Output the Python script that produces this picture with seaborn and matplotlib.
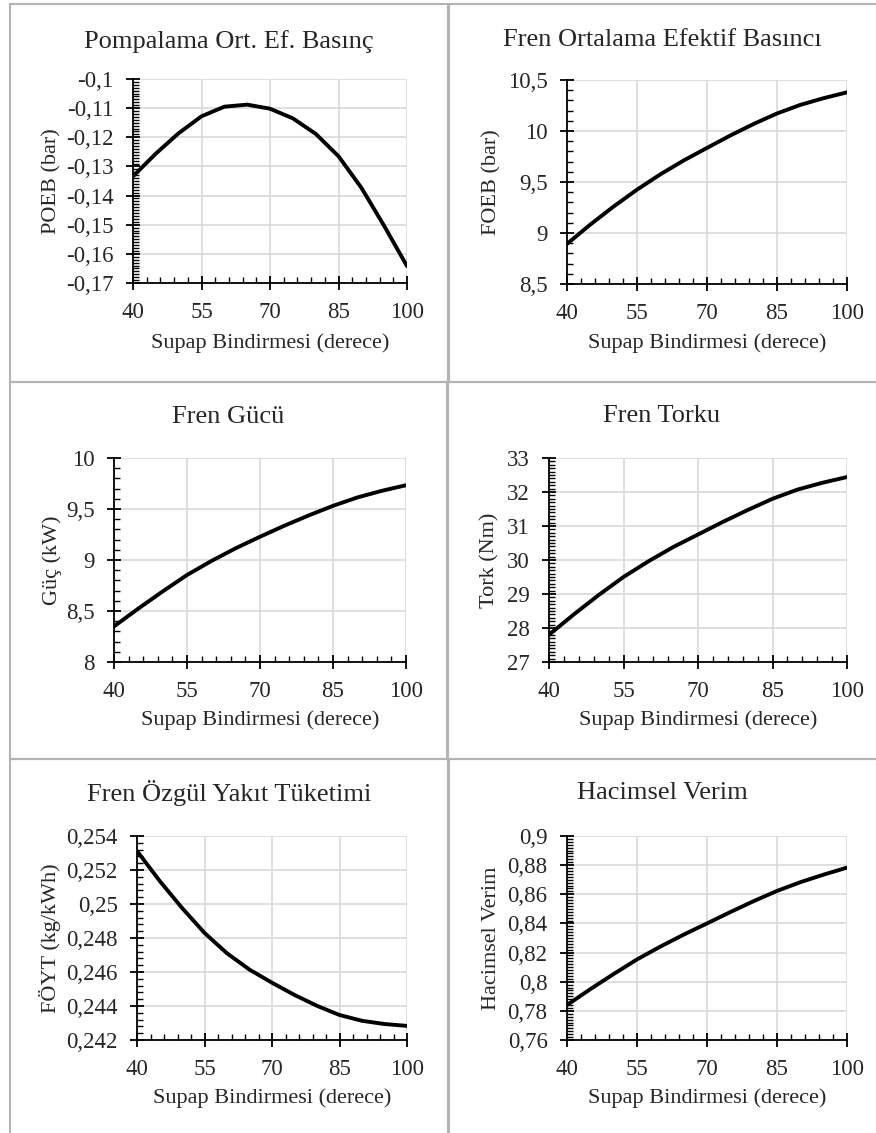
# Supap bindirmesi etkisi - 6 panelli motor performans grafiği
import numpy as np
import pandas as pd
import matplotlib
matplotlib.use("Agg")
import matplotlib.pyplot as plt
import seaborn as sns
from matplotlib.patches import Rectangle
from matplotlib.ticker import MultipleLocator, FixedLocator, FuncFormatter

W, H = 876, 1133

# veri
bindirme = [40, 45, 50, 55, 60, 65, 70, 75, 80, 85, 90, 95, 100]
poeb = [-0.1334, -0.1256, -0.1186, -0.1128, -0.1095, -0.1088, -0.1102,
        -0.1135, -0.1188, -0.1265, -0.1373, -0.1504, -0.1642]
foeb = [8.893, 9.083, 9.260, 9.425, 9.575, 9.711, 9.834,
        9.956, 10.069, 10.172, 10.256, 10.322, 10.379]
guc = [8.349, 8.524, 8.692, 8.853, 8.990, 9.115, 9.228,
       9.336, 9.437, 9.531, 9.613, 9.678, 9.733]
tork = [27.80, 28.40, 28.97, 29.50, 29.96, 30.38, 30.75,
        31.12, 31.47, 31.80, 32.07, 32.27, 32.44]
foyt = [0.25312, 0.25137, 0.24977, 0.24830, 0.24710, 0.24614, 0.24537,
        0.24465, 0.24401, 0.24347, 0.24313, 0.24294, 0.24283]
hv = [0.7840, 0.7949, 0.8053, 0.8153, 0.8241, 0.8323, 0.8400,
      0.8478, 0.8553, 0.8623, 0.8683, 0.8735, 0.8783]

x_ticks = [40, 55, 70, 85, 100]
x_label = "Supap Bindirmesi (derece)"

# başlık, y etiketi, seri, y aralığı, ana adım, ara adım
panels = [
    ("Pompalama Ort. Ef. Basınç", "POEB (bar)", poeb, (-0.17, -0.1), 0.01, 0.001),
    ("Fren Ortalama Efektif Basıncı", "FOEB (bar)", foeb, (8.5, 10.5), 0.5, 0.1),
    ("Fren Gücü", "Güç (kW)", guc, (8, 10), 0.5, 0.1),
    ("Fren Torku", "Tork (Nm)", tork, (27, 33), 1, 0.1),
    ("Fren Özgül Yakıt Tüketimi", "FÖYT (kg/kWh)", foyt, (0.242, 0.254), 0.002, 0.0004),
    ("Hacimsel Verim", "Hacimsel Verim", hv, (0.76, 0.9), 0.02, 0.002),
]

# piksel yerleşimi: eksen kutuları, panel kutuları, başlık y, x etiketi y, y etiketi x
axes_px = [(133, 407, 79, 283), (567, 847, 80, 284),
           (114, 406, 458, 662), (549, 847, 458, 662),
           (137, 407, 836, 1040), (567, 847, 836, 1040)]
box_px = [(10, 448, 4, 382), (449, 880, 4, 382),
          (10, 447, 382, 759), (448, 880, 382, 759),
          (10, 448, 759, 1140), (449, 880, 759, 1140)]
title_y = [42, 40, 417, 416, 793, 793]
xlab_y = [343, 343, 720, 720, 1098, 1098]
ylab_x = [52, 492, 52, 490, 50, 492]

sns.set_style("white")
plt.rcParams["font.family"] = ["Liberation Serif", "DejaVu Serif"]

fig = plt.figure(figsize=(W / 100, H / 100), dpi=100)


def fx(x):
    return x / W


def fy(y):
    return 1 - y / H


def comma_fmt(v, pos):
    return f"{round(v, 6):g}".replace(".", ",")


for i, (title, ylab, vals, ylim, major, minor) in enumerate(panels):
    x0, x1, y0, y1 = box_px[i]
    fig.add_artist(Rectangle((fx(x0), fy(y1)), fx(x1 - x0), (y1 - y0) / H,
                             transform=fig.transFigure, fill=False,
                             edgecolor="#b3b3b3", linewidth=1.5))

    a0, a1, b0, b1 = axes_px[i]
    ax = fig.add_axes([fx(a0), fy(b1), fx(a1 - a0), (b1 - b0) / H])
    df = pd.DataFrame({"x": bindirme, "y": vals})
    sns.lineplot(data=df, x="x", y="y", ax=ax, color="black", linewidth=2.8)

    ax.set_xlim(40, 100)
    ax.set_ylim(*ylim)
    ax.xaxis.set_major_locator(FixedLocator(x_ticks))
    ax.xaxis.set_minor_locator(FixedLocator(np.arange(40, 101, 3)))
    ax.yaxis.set_major_locator(MultipleLocator(major))
    ax.yaxis.set_minor_locator(MultipleLocator(minor))
    ax.yaxis.set_major_formatter(FuncFormatter(comma_fmt))

    ax.grid(True, which="major", color="#d9d9d9", linewidth=1.2)
    ax.set_axisbelow(True)
    for side in ["top", "right"]:
        ax.spines[side].set_visible(False)
    for side in ["left", "bottom"]:
        ax.spines[side].set_color("black")
        ax.spines[side].set_linewidth(1.3)

    ax.tick_params(which="both", bottom=True, left=True, top=False, right=False)
    ax.tick_params(which="major", direction="inout", length=10, width=1.3,
                   color="black", labelsize=16.5)
    ax.tick_params(which="minor", direction="in", length=4.5, width=1.0, color="black")
    ax.tick_params(axis="x", which="major", pad=8.5)
    ax.tick_params(axis="y", which="major", pad=9)
    ax.set_xlabel("")
    ax.set_ylabel("")

    cx = (x0 + min(x1, W)) / 2
    fig.text(fx(cx), fy(title_y[i]), title, ha="center", va="center", fontsize=19)
    fig.text(fx((a0 + a1) / 2), fy(xlab_y[i]), x_label, ha="center", va="center", fontsize=16)
    fig.text(fx(ylab_x[i]), fy((b0 + b1) / 2), ylab, ha="center", va="center",
             rotation=90, fontsize=16)

fig.savefig("out.png", dpi=100, facecolor="white")
